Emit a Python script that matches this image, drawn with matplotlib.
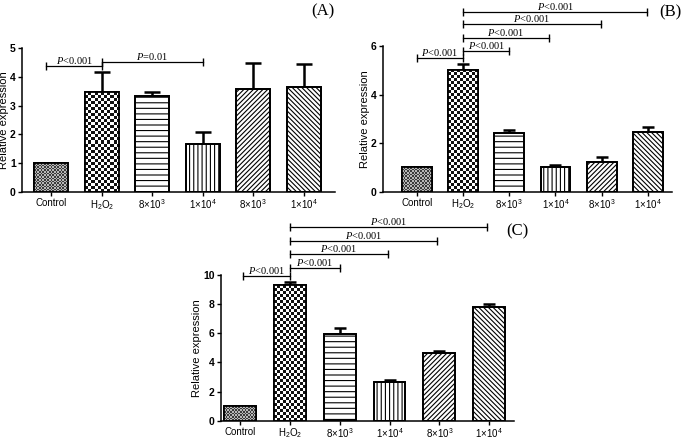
import numpy as np
import matplotlib
matplotlib.use("Agg")
import matplotlib.pyplot as plt
from matplotlib.colors import ListedColormap

plt.rcParams['font.family'] = ['Liberation Sans', 'DejaVu Sans']
plt.rcParams['mathtext.fontset'] = 'custom'
plt.rcParams['mathtext.rm'] = 'Liberation Serif'
plt.rcParams['mathtext.it'] = 'Liberation Serif:italic'
plt.rcParams['hatch.linewidth'] = 0.8

# ---------------- data ----------------
categories = ['Control', 'H$_\\mathregular{2}$O$_\\mathregular{2}$', '8×10$^\\mathregular{3}$',
              '1×10$^\\mathregular{4}$', '8×10$^\\mathregular{3}$', '1×10$^\\mathregular{4}$']

values_a = [1.0, 3.47, 3.34, 1.68, 3.58, 3.63]
errors_a = [0.0, 0.70, 0.14, 0.41, 0.91, 0.81]
values_b = [1.0, 5.03, 2.40, 1.03, 1.23, 2.44]
errors_b = [0.0, 0.22, 0.14, 0.08, 0.21, 0.22]
values_c = [1.0, 9.31, 5.95, 2.63, 4.67, 7.78]
errors_c = [0.0, 0.23, 0.43, 0.14, 0.09, 0.21]

yticks_a = [0, 1, 2, 3, 4, 5]
yticks_b = [0, 2, 4, 6]
yticks_c = [0, 2, 4, 6, 8, 10]

# brackets: (start, end, height, label)
brackets_a = [(-0.1, 1, 4.38, '$P$<0.001'), (1, 3, 4.52, '$P$=0.01')]
brackets_b = [(0, 1, 5.49, '$P$<0.001'), (1, 2, 5.79, '$P$<0.001'), (1, 2.85, 6.31, '$P$<0.001'),
              (1, 3.98, 6.89, '$P$<0.001'), (1, 4.98, 7.41, '$P$<0.001')]
brackets_c = [(0.05, 1, 9.93, '$P$<0.001'), (1, 2, 10.46, '$P$<0.001'), (1, 2.96, 11.42, '$P$<0.001'),
              (1, 3.96, 12.33, '$P$<0.001'), (1, 4.95, 13.31, '$P$<0.001')]

hatches = ['checker_fine', 'checker', '---', '||||', '///////', '\\\\\\\\\\\\\\']

fig = plt.figure(figsize=(6.85, 4.41), dpi=100)


def checker_fill(ax, bar, cell_px, c_dark, c_light):
    x0, y0 = ax.transData.transform((bar.get_x(), bar.get_y()))
    x1, y1 = ax.transData.transform((bar.get_x() + bar.get_width(), bar.get_y() + bar.get_height()))
    nx = max(1, int(round(abs(x1 - x0) / cell_px)))
    ny = max(1, int(round(abs(y1 - y0) / cell_px)))
    arr = np.add.outer(np.arange(ny), np.arange(nx)) % 2
    im = ax.imshow(arr, cmap=ListedColormap([c_light, c_dark]),
                   extent=(bar.get_x(), bar.get_x() + bar.get_width(),
                           bar.get_y(), bar.get_y() + bar.get_height()),
                   origin='lower', aspect='auto', interpolation='nearest', zorder=2.05)
    im.set_clip_path(bar)


def panel(rect, values, errors, yticks, xlim, width, capsize, brackets, label, label_xy):
    ax = fig.add_axes(rect)
    x = np.arange(len(values))
    ax.set_xlim(*xlim)
    ax.set_ylim(0, yticks[-1])
    bars = ax.bar(x, values, width=width, color='white', edgecolor='black', linewidth=1.3, zorder=2)
    for b, h in zip(bars, hatches):
        if h == 'checker':
            checker_fill(ax, b, 3.0, '#111111', '#ffffff')
        elif h == 'checker_fine':
            checker_fill(ax, b, 1.6, '#3c3c3c', '#b8b8b8')
        else:
            b.set_hatch(h)
    # draw edges on top
    ax.bar(x, values, width=width, color='none', edgecolor='black', linewidth=1.3, zorder=3)
    ax.errorbar(x, values, yerr=[np.zeros(len(errors)), errors], fmt='none', ecolor='black',
                elinewidth=1.8, capsize=capsize, capthick=1.8, zorder=1.5)
    ax.set_xlim(*xlim)
    ax.set_ylim(0, yticks[-1])
    ax.set_xticks(x)
    ax.set_xticklabels(categories, fontsize=7)
    ax.set_yticks(yticks)
    ax.set_yticklabels([str(t) for t in yticks], fontsize=7.5, fontweight='bold')
    ax.tick_params(axis='both', length=3, width=1, pad=1.5)
    for s in ['top', 'right']:
        ax.spines[s].set_visible(False)
    for s in ['left', 'bottom']:
        ax.spines[s].set_linewidth(1.1)
    ax.set_ylabel('Relative expression', fontsize=8, labelpad=1)
    for (x0, x1, yy, txt) in brackets:
        ax.plot([x0, x1], [yy, yy], color='black', lw=0.9, marker='|', markersize=6,
                markeredgewidth=1.0, clip_on=False, zorder=4)
        ax.text((x0 + x1) / 2, yy, txt, ha='center', va='bottom', fontsize=7.5,
                family='Liberation Serif', clip_on=False)
    fig.text(label_xy[0], label_xy[1], label, fontsize=12, family='Liberation Serif',
             ha='center', va='center')
    return ax


W, H = 685.0, 441.0

panel([22 / W, 1 - 192 / H, (335 - 22) / W, (192 - 48) / H], values_a, errors_a, yticks_a,
      (-0.58, 5.62), 0.68, 6, brackets_a, '(A)', (323 / W, 1 - 11 / H))
panel([383 / W, 1 - 191.7 / H, (672 - 383) / W, (191.7 - 46) / H], values_b, errors_b, yticks_b,
      (-0.73, 5.52), 0.64, 4.3, brackets_b, '(B)', (670 / W, 1 - 12 / H))
panel([220.7 / W, 1 - 420.7 / H, (514 - 220.7) / W, (420.7 - 275) / H], values_c, errors_c, yticks_c,
      (-0.39, 5.5), 0.64, 4.3, brackets_c, '(C)', (517 / W, 1 - 231 / H))

fig.savefig('out.png', dpi=100)
